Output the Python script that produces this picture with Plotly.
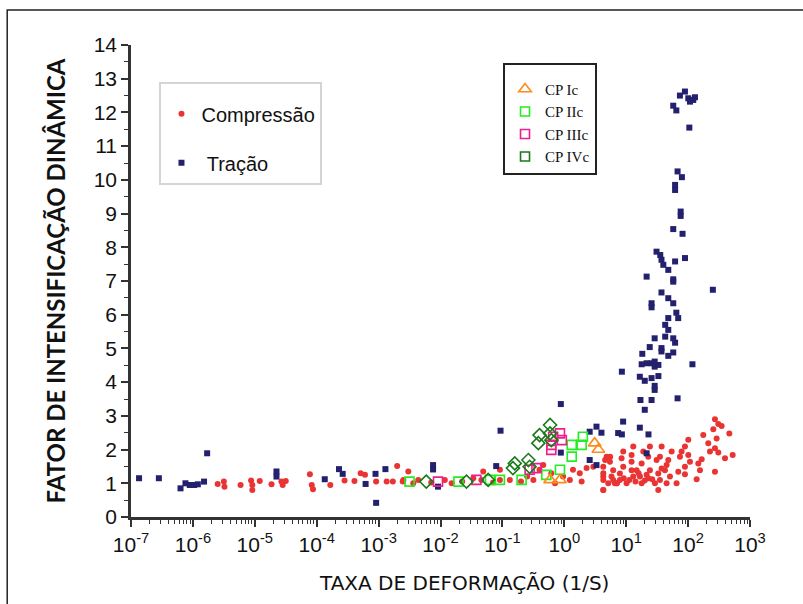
import plotly.graph_objects as go

# ---------------- data (x given as log10 of strain rate, 1/s) ----------------
comp_logx = [-5.60, -5.50, -5.49, -5.23, -5.06, -5.04, -5.04, -4.92, -4.73, -4.57, -4.55, -4.50,
             -4.11, -4.08, -4.06, -3.78, -3.55, -3.39, -3.29, -3.22, -3.04, -2.87, -2.70, -2.77, -2.61,
             -2.52, -2.60, -2.44, -2.36, -2.15, -1.93, -1.82, -1.65, -1.47, -1.31, -1.34, -1.15, -1.04,
             -1.04, -0.88, -0.70, -0.60, -0.50, -0.40, -0.34, -0.21, -0.15, -0.02, 0.09, 0.14, 0.25,
             0.28, 0.36, 0.47, 0.63, 0.63, 0.63, 0.66, 0.74, 0.79, 0.85,
             2.434, 2.488, 2.542, 2.407, 2.666, 2.245, 2.461, 2.326, 2.434, 2.353, 2.488, 2.720, 2.596,
             2.434, 2.219, 2.165, 2.192, 2.138, 2.003, 1.949, 1.895, 2.003, 1.868, 2.030, 1.949, 1.841,
             1.949, 1.814, 1.734, 1.680, 1.653, 1.626, 1.707, 1.653, 1.572, 1.545, 1.491, 1.572, 1.518,
             1.545, 1.464, 1.518, 1.383, 1.356, 1.383, 1.356, 1.276, 1.249, 1.168, 1.222, 1.249, 1.114,
             1.087, 1.087, 1.087, 1.114, 1.006, 0.952, 0.925, 0.952, 0.898, 0.898, 0.817, 0.763, 0.790,
             0.737, 0.683, 0.629, 0.629, 0.629, 0.710, 0.844, 1.05, 1.15, 1.30, 1.42, 0.96, 1.20, 1.33]
comp_fid = [0.98, 1.05, 0.90, 0.95, 1.08, 0.95, 0.80, 1.07, 0.97, 1.05, 0.95, 1.07,
            1.27, 0.95, 0.82, 0.95, 1.08, 1.07, 1.30, 1.25, 1.05, 1.05, 1.51, 1.05, 1.05,
            1.35, 1.10, 1.00, 1.10, 1.02, 1.10, 1.00, 1.05, 1.15, 1.35, 1.10, 1.02, 1.40,
            1.10, 1.10, 1.05, 1.20, 1.10, 1.40, 1.54, 1.30, 1.00, 1.20, 1.10, 1.40, 1.30,
            1.05, 1.45, 1.49, 1.30, 1.10, 0.80, 1.69, 1.79, 1.10, 1.00,
            2.90, 2.76, 2.70, 2.60, 2.48, 2.43, 2.33, 2.19, 2.04, 1.94, 1.91, 1.84, 1.74,
            1.34, 1.71, 1.59, 1.39, 1.12, 2.29, 2.09, 1.94, 1.84, 1.79, 1.64, 1.49, 1.34,
            1.27, 1.00, 1.94, 1.69, 1.54, 1.39, 1.20, 1.00, 2.09, 1.79, 1.69, 1.44, 1.29,
            1.10, 1.00, 0.80, 2.09, 1.79, 1.39, 1.15, 1.94, 1.59, 1.39, 1.20, 1.00, 2.09,
            1.84, 1.64, 1.39, 1.20, 1.00, 1.94, 1.74, 1.49, 1.29, 1.10, 1.00, 1.20, 1.39,
            1.64, 1.79, 1.49, 1.20, 0.80, 1.00, 1.00, 1.10, 1.05, 1.08, 1.12, 1.15, 1.30, 1.25]

trac_logx = [-6.87, -6.55, -6.20, -6.12, -6.05, -5.98, -5.92, -5.82, -5.77, -4.65, -4.65, -3.87,
             -3.64, -3.58, -3.21, -3.05, -3.04, -2.89, -2.12, -2.12, -2.04, -1.10, -1.03, -0.056,
             -0.056, 0.52, 0.41, 0.60, 0.41, 0.52, 0.87,
             1.949, 1.868, 2.003, 2.083, 2.030, 2.111, 1.76, 1.81, 2.02, 1.83, 1.90, 1.79, 1.79,
             1.88, 1.88, 1.76, 1.91, 1.49, 1.55, 1.57, 1.79, 1.95, 1.60, 1.68, 1.33, 1.76,
             1.76, 2.40, 1.57, 1.68, 1.76, 1.41, 1.41, 1.81, 1.84, 1.68, 1.63, 1.68, 1.46, 1.63,
             1.76, 1.79, 1.38, 1.26, 1.57, 1.57, 1.68, 1.76, 2.07, 1.25, 1.33, 1.41, 1.46, 1.52,
             1.46, 0.93, 1.22, 1.30, 1.41, 1.52, 1.46, 1.46, 1.23, 1.41, 1.83, 1.30, 0.95, 0.93,
             1.22, 1.36, 1.33]
trac_fid = [1.15, 1.15, 0.85, 1.00, 0.95, 0.95, 0.97, 1.05, 1.89, 1.35, 1.20, 1.12,
            1.42, 1.28, 0.98, 1.28, 0.42, 1.42, 1.54, 1.41, 0.90, 1.51, 2.56, 3.35,
            1.91, 2.68, 2.53, 2.50, 1.69, 1.54, 2.49,
            12.62, 12.50, 12.42, 12.37, 12.32, 12.45, 12.20, 12.06, 11.55, 10.25, 10.08, 9.85, 9.70,
            9.06, 8.93, 8.54, 8.40, 7.87, 7.77, 7.63, 7.58, 7.68, 7.48, 7.33, 7.13, 7.05,
            6.98, 6.74, 6.66, 6.49, 6.34, 6.34, 6.22, 6.06, 5.90, 5.90, 5.70, 5.55, 5.30, 5.35,
            5.30, 5.17, 5.04, 4.84, 5.01, 4.91, 4.78, 4.88, 4.53, 4.53, 4.56, 4.56, 4.46, 4.51,
            4.61, 4.31, 4.16, 4.04, 4.12, 4.18, 3.89, 3.77, 3.47, 3.47, 3.52, 3.18, 2.83, 2.45,
            2.65, 2.45, 1.89]

cp1_logx = [-0.23, -0.07, 0.49, 0.55]
cp1_fid = [1.10, 1.10, 2.19, 2.00]
cp2_logx = [-2.50, -1.71, -1.20, -1.04, -0.69, -0.29, -0.07, 0.12, 0.12, 0.30, 0.28]
cp2_fid = [1.05, 1.05, 1.10, 1.10, 1.10, 1.25, 1.40, 2.14, 1.79, 2.38, 2.14]
cp3_logx = [-2.04, -1.42, -0.56, -0.45, -0.07, -0.04, -0.18, -0.21, -0.21]
cp3_fid = [1.05, 1.10, 1.40, 1.45, 2.48, 2.28, 2.38, 2.14, 1.99]
cp4_logx = [-2.23, -1.58, -1.23, -0.83, -0.80, -0.58, -0.56, -0.40, -0.42, -0.23, -0.23, -0.21]
cp4_fid = [1.05, 1.05, 1.10, 1.45, 1.59, 1.69, 1.49, 2.43, 2.19, 2.73, 2.48, 2.28]

x_tick_exp = [-7, -6, -5, -4, -3, -2, -1, 0, 1, 2, 3]
x_tick_text = ["10<sup>%d</sup>" % e for e in x_tick_exp]
y_ticks = list(range(0, 15))
x_title = "TAXA DE DEFORMAÇÃO (1/S)"
y_title = "FATOR DE INTENSIFICAÇÃO DINÂMICA"


def tox(lst):
    return [10 ** v for v in lst]


fig = go.Figure()

fig.add_trace(go.Scatter(x=tox(comp_logx), y=comp_fid, mode="markers", name="Compressão",
                         marker=dict(symbol="circle", size=6, color="#ea3434"),
                         legend="legend", legendgroup="c"))
fig.add_trace(go.Scatter(x=tox(trac_logx), y=trac_fid, mode="markers", name=" Tração",
                         marker=dict(symbol="square", size=6, color="#23216e"),
                         legend="legend", legendgroup="t"))

cp_open = dict(size=9, line=dict(width=1.6))
fig.add_trace(go.Scatter(x=tox(cp2_logx), y=cp2_fid, mode="markers", name="CP IIc",
                         marker=dict(symbol="square-open", color="#22ee22", **cp_open),
                         legend="legend2", legendrank=2, legendgroup="g2"))
fig.add_trace(go.Scatter(x=tox(cp3_logx), y=cp3_fid, mode="markers", name="CP IIIc",
                         marker=dict(symbol="square-open", color="#ee1e8c", **cp_open),
                         legend="legend2", legendrank=3, legendgroup="g3"))
fig.add_trace(go.Scatter(x=tox(cp4_logx), y=cp4_fid, mode="markers", name="CP IVc",
                         marker=dict(symbol="diamond-open", color="#1a7a1a", size=10,
                                     line=dict(width=1.6)),
                         legend="legend2", showlegend=False, legendgroup="g4"))
fig.add_trace(go.Scatter(x=tox(cp1_logx), y=cp1_fid, mode="markers", name="CP Ic",
                         marker=dict(symbol="triangle-up-open", color="#ff8a1a", size=11,
                                     line=dict(width=1.6)),
                         legend="legend2", legendrank=1, legendgroup="g1"))
# legend entry for CP IVc (square symbol as in the reference legend)
fig.add_trace(go.Scatter(x=[None], y=[None], mode="markers", name="CP IVc",
                         marker=dict(symbol="square-open", color="#1a7a1a", **cp_open),
                         legend="legend2", legendrank=4, legendgroup="g4b"))

axis_font = dict(family="Liberation Sans, Arial", size=21, color="#111")

fig.update_layout(
    width=803, height=604,
    margin=dict(l=131, r=53, t=45, b=87),
    paper_bgcolor="white", plot_bgcolor="white",
    showlegend=True,
    xaxis=dict(type="log", range=[-7, 3], tickvals=[10 ** e for e in x_tick_exp],
               ticktext=x_tick_text, tickfont=axis_font, showgrid=False, zeroline=False,
               showline=True, linecolor="#333", linewidth=2.5,
               ticks="outside", ticklen=7, tickwidth=2, tickcolor="#333",
               minor=dict(ticks="outside", ticklen=4, tickwidth=1.3, tickcolor="#333",
                          dtick="D1", showgrid=False)),
    yaxis=dict(range=[0, 14], tickvals=y_ticks, tickfont=axis_font, showgrid=False, zeroline=False,
               showline=True, linecolor="#333", linewidth=2.5,
               ticks="outside", ticklen=7, tickwidth=2, tickcolor="#333",
               minor=dict(ticks="outside", ticklen=4, tickwidth=1.3, tickcolor="#333",
                          dtick=0.5, showgrid=False),
               title=dict(text=y_title, standoff=22,
                          font=dict(family="Lato", size=24, color="#111", weight="bold"))),
    annotations=[dict(text=x_title, xref="paper", yref="paper", x=0.538, y=-0.14,
                      xanchor="center", yanchor="middle", showarrow=False,
                      font=dict(family="DejaVu Sans", size=20, color="#111"))],
    legend=dict(x=0.046, y=0.922, xanchor="left", yanchor="top",
                bgcolor="white", bordercolor="#d4d4d4", borderwidth=2,
                font=dict(family="Liberation Sans, Arial", size=20, color="#111"),
                title=dict(text=" ", font=dict(size=8)),
                tracegroupgap=20, itemsizing="trace", entrywidth=150,
                traceorder="grouped"),
    legend2=dict(x=0.601, y=0.962, xanchor="left", yanchor="top",
                 bgcolor="white", bordercolor="#222", borderwidth=2,
                 font=dict(family="Liberation Serif, Times New Roman", size=15, color="#111"),
                 title=dict(text=" ", font=dict(size=6)),
                 tracegroupgap=0, itemsizing="trace", entrywidth=92,
                 traceorder="grouped"),
    shapes=[dict(type="rect", xref="paper", yref="paper", x0=-0.2, x1=1.2, y0=-0.3, y1=1.074,
                 line=dict(color="#222", width=1.5), fillcolor="rgba(0,0,0,0)", layer="below")],
)

fig.write_html("out.html")
